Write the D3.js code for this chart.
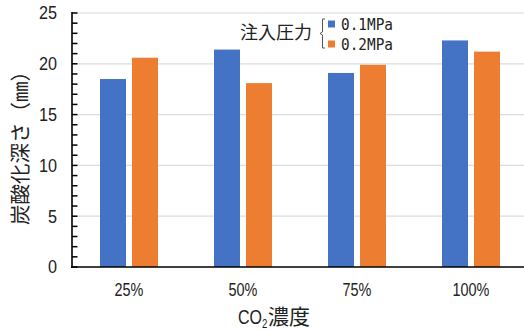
<!DOCTYPE html>
<html>
<head>
<meta charset="utf-8">
<script src="https://cdn.jsdelivr.net/npm/d3@7"></script>
<style>
  html, body { margin: 0; padding: 0; background: #fff; }
  svg { display: block; }
  .num { font-family: "Liberation Sans", Arial, sans-serif; }
  .jp { font-family: "Noto Sans CJK JP", sans-serif; }
</style>
</head>
<body>
<svg id="chart" width="524" height="331"></svg>
<script>
// CO2 concentration categories and carbonation depth (mm) per injection pressure
const categories = ["25%", "50%", "75%", "100%"];
const seriesNames = ["0.1MPa", "0.2MPa"];
const depth01 = [18.5, 21.4, 19.1, 22.3];
const depth02 = [20.6, 18.1, 19.9, 21.2];
const yTicks = [0, 5, 10, 15, 20, 25];
const colors = ["#4472C4", "#ED7D31"];

const svg = d3.select("#chart");
const plotLeft = 72, plotRight = 528, plotTop = 13, plotBottom = 267;

const x0 = d3.scaleBand().domain(categories).range([plotLeft, plotRight]);
const x1 = d3.scaleBand().domain(seriesNames).range([28, 86]).paddingInner(6 / 32);
const y = d3.scaleLinear().domain([0, 25]).range([plotBottom, plotTop]);

// horizontal gridlines
svg.append("g").selectAll("line").data(yTicks.filter(d => d > 0)).join("line")
  .attr("x1", plotLeft).attr("x2", 524)
  .attr("y1", d => y(d)).attr("y2", d => y(d))
  .attr("stroke", "#dcdcdc").attr("stroke-width", 1.2);

// bars
const rows = categories.map((c, i) => ({ c, vals: [depth01[i], depth02[i]] }));
const groups = svg.append("g").selectAll("g").data(rows).join("g")
  .attr("transform", d => `translate(${x0(d.c)},0)`);
groups.selectAll("rect").data(d => d.vals.map((v, j) => ({ v, s: seriesNames[j], j })))
  .join("rect")
  .attr("x", d => x1(d.s))
  .attr("width", x1.bandwidth())
  .attr("y", d => y(d.v))
  .attr("height", d => y(0) - y(d.v))
  .attr("fill", d => colors[d.j]);

// y axis: line and ticks at every unit, pointing inward
const yAxis = svg.append("g");
yAxis.selectAll("line.minor").data(d3.range(0, 26)).join("line")
  .attr("class", "minor")
  .attr("x1", plotLeft).attr("x2", plotLeft + 5.5)
  .attr("y1", d => y(d)).attr("y2", d => y(d))
  .attr("stroke", "#000").attr("stroke-width", 1.5);
yAxis.append("line")
  .attr("x1", plotLeft).attr("x2", plotLeft)
  .attr("y1", plotTop - 1).attr("y2", plotBottom + 1)
  .attr("stroke", "#000").attr("stroke-width", 1.6);
yAxis.selectAll("g.lab").data(yTicks).join("g")
  .attr("class", "lab")
  .attr("transform", d => `translate(57,${y(d)}) scale(0.9,1)`)
  .append("text")
  .attr("class", "num")
  .attr("dy", "0.36em")
  .attr("text-anchor", "end")
  .attr("font-size", 18)
  .attr("fill", "#222")
  .text(d => d);

// x axis baseline
svg.append("line")
  .attr("x1", plotLeft - 1).attr("x2", 524)
  .attr("y1", plotBottom).attr("y2", plotBottom)
  .attr("stroke", "#000").attr("stroke-width", 1.6);

// category labels, horizontally condensed
svg.append("g").selectAll("g").data(categories).join("g")
  .attr("transform", d => `translate(${x0(d) + x0.bandwidth() / 2},296) scale(0.76,1)`)
  .append("text")
  .attr("class", "num")
  .attr("text-anchor", "middle")
  .attr("font-size", 19)
  .attr("fill", "#222")
  .text(d => d);

// x axis title: CO2 concentration
const xt = svg.append("g").attr("transform", "translate(238,324)");
const co = xt.append("g").attr("transform", "scale(0.8,1)").append("text")
  .attr("class", "num").attr("font-size", 20).attr("fill", "#222");
co.append("tspan").text("CO");
co.append("tspan").attr("font-size", 12).attr("dy", 4).text("2");
xt.append("text")
  .attr("class", "jp")
  .attr("x", 268 - 238)
  .attr("font-size", 21)
  .attr("fill", "#222")
  .text("濃度");

svg.append("text")
  .attr("class", "jp")
  .attr("transform", "translate(28,143) rotate(-90)")
  .attr("text-anchor", "middle")
  .attr("font-size", 20.5)
  .attr("fill", "#222")
  .text("炭酸化深さ（㎜）");

// legend
const lg = svg.append("g");
lg.append("text")
  .attr("class", "jp")
  .attr("x", 240).attr("y", 39)
  .attr("font-size", 18)
  .attr("fill", "#222")
  .text("注入圧力");
lg.append("path")
  .attr("d", "M325,19 L322.5,19 L322.5,32 L320,33.5 L322.5,35 L322.5,48 L325,48")
  .attr("fill", "none").attr("stroke", "#555").attr("stroke-width", 1);
seriesNames.forEach((s, j) => {
  const cy = 24 + j * 20;
  lg.append("rect")
    .attr("x", 328).attr("y", cy - 3.5)
    .attr("width", 7).attr("height", 7)
    .attr("fill", colors[j]);
  lg.append("g")
    .attr("transform", `translate(341,${cy}) scale(0.9,1)`)
    .append("text")
    .attr("dy", "0.38em")
    .attr("font-family", "'DejaVu Sans Mono', monospace")
    .attr("font-size", 16)
    .attr("fill", "#222")
    .text(s);
});
</script>
</body>
</html>
